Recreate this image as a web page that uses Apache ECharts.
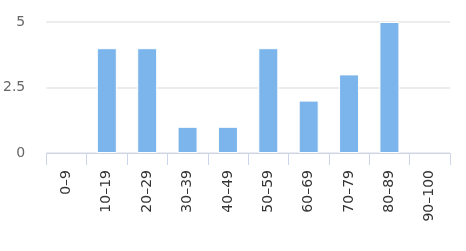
<!DOCTYPE html>
<html><head><meta charset="utf-8">
<script src="https://cdn.jsdelivr.net/npm/echarts@6/dist/echarts.min.js"></script>
<style>html,body{margin:0;padding:0;background:#fff}#c{width:466px;height:251px}</style>
</head><body><div id="c"></div>
<script>
const categories = ['0–9','10–19','20–29','30–39','40–49','50–59','60–69','70–79','80–89','90–100'];
const counts = [0,4,4,1,1,4,2,3,5,0];
const yTicks = [0,2.5,5];

const chart = echarts.init(document.getElementById('c'), null, {renderer:'canvas'});
chart.setOption({
  animation:false,
  grid:{left:46,right:16,top:22,bottom:98,containLabel:false},
  xAxis:{
    type:'category', data:categories,
    axisLine:{lineStyle:{color:'#ccd6eb',width:1}},
    axisTick:{show:true,length:12,lineStyle:{color:'#ccd6eb'}},
    axisLabel:{rotate:90,margin:17,color:'#333',fontSize:14,fontFamily:'DejaVu Sans'}
  },
  yAxis:{
    type:'value', min:yTicks[0], max:yTicks[yTicks.length-1], interval:2.5,
    axisLine:{show:false}, axisTick:{show:false},
    splitLine:{lineStyle:{color:'#e6e6e6',width:1.5}},
    axisLabel:{color:'#666',fontSize:14,fontFamily:'DejaVu Sans',margin:21,padding:[0,0,5,0],
      formatter:v=>String(v)}
  },
  series:[{
    type:'bar', barWidth:20,
    data:counts.map(v=>v===0?{value:v,itemStyle:{borderWidth:0,opacity:0}}:v),
    itemStyle:{color:'#7cb5ec',borderColor:'#ffffff',borderWidth:1}
  }]
});
</script></body></html>
